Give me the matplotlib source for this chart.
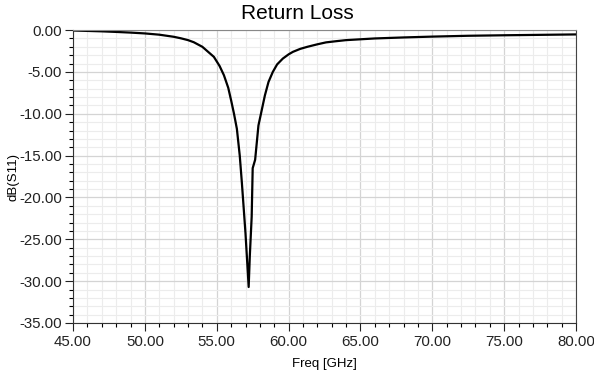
import matplotlib.pyplot as plt
from matplotlib.ticker import MultipleLocator, FormatStrFormatter

plt.rcParams['font.family'] = ['Liberation Sans', 'DejaVu Sans']

# Values
freq_ghz = [45.0, 46.0, 47.0, 48.0, 49.0, 50.0, 51.0, 52.0, 52.5, 53.0, 53.4,
            54.0, 54.4, 54.8, 55.2, 55.5, 55.8, 56.0, 56.2, 56.4, 56.6,
            56.75, 57.0, 57.22, 57.3, 57.43, 57.5, 57.67, 57.9, 58.0, 58.35,
            58.6, 58.9, 59.2, 59.6, 60.0, 60.3, 60.8, 61.3, 62.0, 62.6, 63.3,
            64.0, 66.0, 68.0, 70.0, 72.5, 75.0, 77.5, 80.0]
s11_db = [-0.05, -0.1, -0.15, -0.22, -0.3, -0.4, -0.55, -0.8, -0.98, -1.2, -1.45,
          -2.0, -2.6, -3.2, -4.3, -5.4, -6.9, -8.4, -10.0, -11.8, -15.0,
          -18.3, -24.3, -30.7, -27.0, -22.3, -16.5, -15.5, -11.4, -10.6, -7.8,
          -6.2, -5.0, -4.1, -3.4, -2.9, -2.6, -2.25, -2.0, -1.7, -1.47, -1.33,
          -1.2, -1.0, -0.88, -0.78, -0.68, -0.62, -0.57, -0.52]

fig = plt.figure(figsize=(5.94, 3.76), dpi=100)
ax = fig.add_axes([0.1229, 0.141, 0.847, 0.779])

ax.plot(freq_ghz, s11_db, color='black', linewidth=1.6)

ax.set_xlim(45, 80)
ax.set_ylim(-35, 0)
ax.xaxis.set_major_locator(MultipleLocator(5))
ax.xaxis.set_minor_locator(MultipleLocator(1))
ax.yaxis.set_major_locator(MultipleLocator(5))
ax.yaxis.set_minor_locator(MultipleLocator(1))
ax.xaxis.set_major_formatter(FormatStrFormatter('%.2f'))
ax.yaxis.set_major_formatter(FormatStrFormatter('%.2f'))

ax.grid(which='minor', color='#ececec', linewidth=0.8)
ax.grid(which='major', color='#d4d4d4', linewidth=0.9)
ax.set_axisbelow(True)

ax.tick_params(which='major', length=6, width=0.8, labelsize=10.8, colors='#222222')
ax.tick_params(which='minor', length=3, width=0.8)
ax.tick_params(axis='x', pad=3)
ax.tick_params(axis='y', pad=2)

for side in ['left', 'bottom']:
    ax.spines[side].set_color('#333333')
ax.spines['top'].set_color('#888888')
ax.spines['right'].set_color('#444444')

ax.set_xlabel('Freq [GHz]', fontsize=9.5, labelpad=6)
ax.set_ylabel('dB(S11)', fontsize=9.5, labelpad=0)
fig.suptitle('Return Loss', x=0.5, y=0.99, fontsize=15)

fig.savefig('out.png', dpi=100)
